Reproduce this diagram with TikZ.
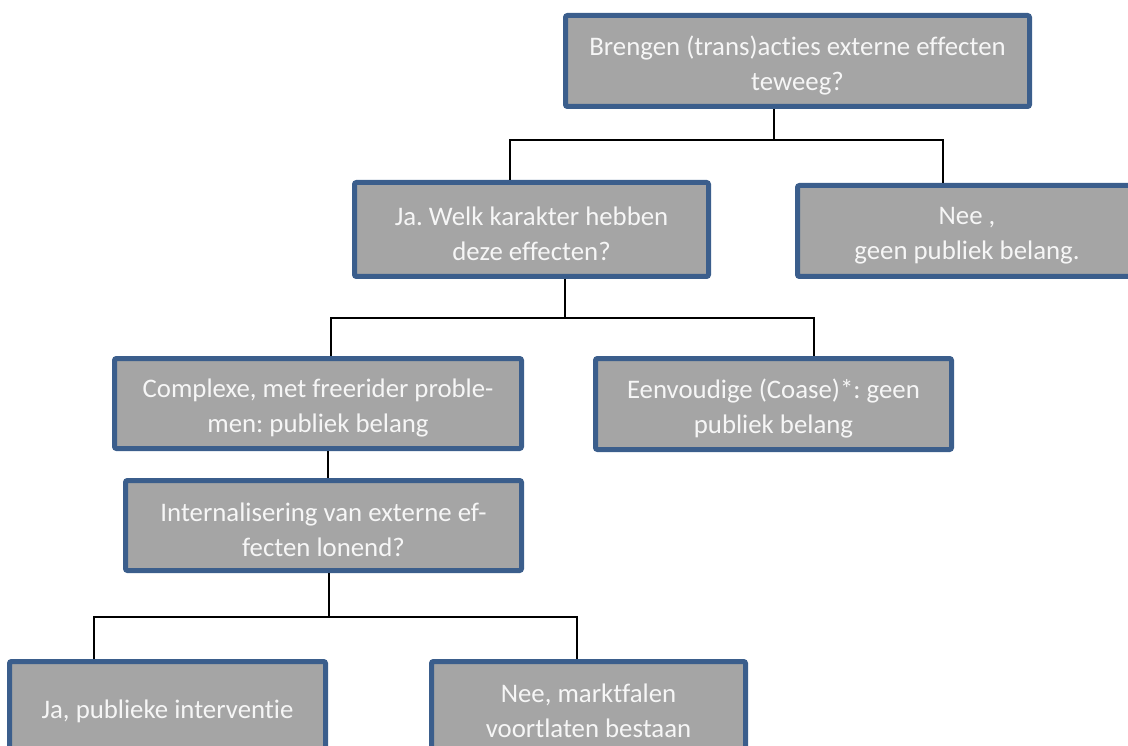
\documentclass[tikz,border=0pt]{standalone}
\usepackage{fontspec}
\setmainfont{Carlito}[Ligatures=NoCommon]
\frenchspacing
\definecolor{boxfill}{HTML}{A5A5A5}
\definecolor{boxdraw}{HTML}{3B5E8C}
\definecolor{boxtext}{HTML}{F6F6F6}
\tikzset{
  qbox/.style={draw=boxdraw, fill=boxfill, line width=5pt, rounded corners=2pt,
    inner sep=0pt},
  qtext/.style={inner sep=0pt, align=center, text=boxtext, yshift=-4.5pt,
    font=\fontsize{26.8}{35}\selectfont},
  conn/.style={draw=black, line width=1.6pt}
}
\begin{document}
\begin{tikzpicture}[x=1pt,y=-1pt]
\useasboundingbox (0,0) rectangle (1128,746);
\begin{scope}
\clip (0,0) rectangle (1128,746);
\node[qbox, minimum width=464pt, minimum height=91pt,
  label={[qtext]center:Brengen (trans)acties externe effecten\\teweeg?}] (B1) at (797.5,61) {};
\node[qbox, minimum width=354pt, minimum height=94pt,
  label={[qtext]center:Ja. Welk karakter hebben\\deze effecten?}] (B2) at (531.5,229.5) {};
\node[qbox, minimum width=339pt, minimum height=91pt,
  label={[qtext]center:Nee ,\\geen publiek belang.}] (B3) at (967,231) {};
\node[qbox, minimum width=407pt, minimum height=90pt,
  label={[qtext]center:Complexe, met freerider proble-\\men: publiek belang}] (B4) at (318,403.5) {};
\node[qbox, minimum width=356pt, minimum height=91pt,
  label={[qtext]center:Eenvoudige (Coase)*: geen\\publiek belang}] (B5) at (773.5,404) {};
\node[qbox, minimum width=396pt, minimum height=90pt,
  label={[qtext]center:Internalisering van externe ef-\\fecten lonend?}] (B6) at (323.5,525.5) {};
\node[qbox, minimum width=316pt, minimum height=90pt,
  label={[qtext]center:Ja, publieke interventie}] (B7) at (167.5,706.5) {};
\node[qbox, minimum width=314pt, minimum height=90pt,
  label={[qtext]center:Nee, marktfalen\\voortlaten bestaan}] (B8) at (588.5,706.5) {};

% connectors
\coordinate (j1) at (774,140);
\draw[conn] (774,0 |- B1.south) -- (j1);
\draw[conn] (510,0 |- B2.north) |- (943,140) -- (943,0 |- B3.north);

\coordinate (j2) at (565,318);
\draw[conn] (565,0 |- B2.south) -- (j2);
\draw[conn] (331,0 |- B4.north) |- (814,318) -- (814,0 |- B5.north);

\draw[conn] (328,0 |- B4.south) -- (328,0 |- B6.north);

\coordinate (j3) at (329,617);
\draw[conn] (329,0 |- B6.south) -- (j3);
\draw[conn] (94,0 |- B7.north) |- (577,617) -- (577,0 |- B8.north);
\end{scope}
\end{tikzpicture}
\end{document}
